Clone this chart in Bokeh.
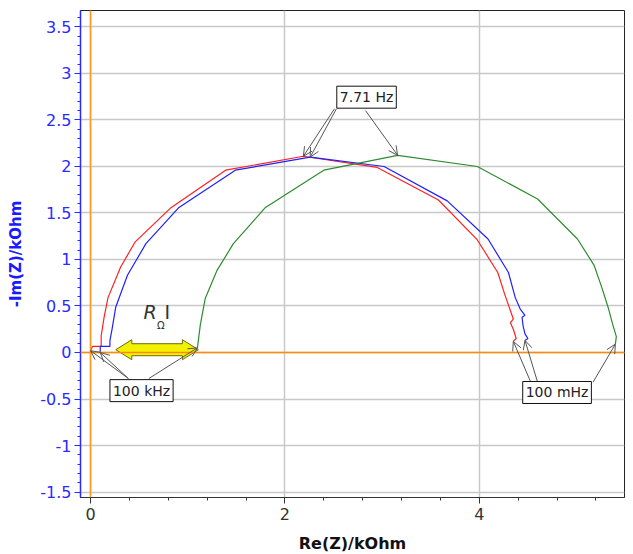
from bokeh.plotting import figure
from bokeh.models import (Range1d, SingleIntervalTicker, Span, Label, Arrow, OpenHead,
                          CustomJSTickFormatter)
from bokeh.embed import file_html
from bokeh.resources import INLINE

# ---- data (kOhm) ----
red_x = [0.00, 0.02, 0.11, 0.11, 0.14, 0.18, 0.31, 0.46, 0.82, 1.39, 2.19, 2.95, 3.58, 3.98, 4.19, 4.26, 4.35, 4.32, 4.35, 4.38, 4.35]
red_y = [0.02, 0.065, 0.065, 0.18, 0.38, 0.59, 0.92, 1.19, 1.55, 1.96, 2.11, 1.99, 1.64, 1.21, 0.86, 0.63, 0.36, 0.32, 0.25, 0.15, 0.12]

blue_x = [0.10, 0.10, 0.20, 0.20, 0.22, 0.26, 0.38, 0.57, 0.91, 1.49, 2.26, 3.02, 3.67, 4.09, 4.30, 4.37, 4.42, 4.47, 4.44, 4.45, 4.47, 4.50, 4.47]
blue_y = [0.00, 0.065, 0.065, 0.13, 0.24, 0.49, 0.83, 1.17, 1.56, 1.96, 2.10, 2.00, 1.63, 1.22, 0.86, 0.59, 0.47, 0.40, 0.38, 0.29, 0.20, 0.15, 0.13]

green_x = [1.10, 1.13, 1.18, 1.30, 1.47, 1.80, 2.40, 3.16, 3.98, 4.60, 5.01, 5.18, 5.26, 5.33, 5.37, 5.41, 5.40]
green_y = [0.05, 0.30, 0.58, 0.88, 1.17, 1.56, 1.96, 2.12, 2.00, 1.65, 1.22, 0.94, 0.70, 0.47, 0.31, 0.17, 0.09]

x_range = (-0.103, 5.494)
y_range = (-1.559, 3.677)

# annotation texts
peak_label = "7.71 Hz"
hf_label = "100 kHz"
lf_label = "100 mHz"

FW, FH = 544, 487

p = figure(frame_width=FW, frame_height=FH, output_backend="svg", toolbar_location=None,
           x_range=Range1d(*x_range), y_range=Range1d(*y_range),
           min_border_left=80, min_border_right=1, min_border_top=10, min_border_bottom=50)

p.background_fill_color = "white"
p.outline_line_color = "#222222"
p.outline_line_width = 1

FONT = "DejaVu Sans"

# axes
p.xaxis.ticker = SingleIntervalTicker(interval=2, num_minor_ticks=5)
p.yaxis.ticker = SingleIntervalTicker(interval=0.5, num_minor_ticks=5)
p.xgrid.ticker = p.xaxis.ticker
p.ygrid.ticker = p.yaxis.ticker
p.grid.grid_line_color = "#c8c8c8"
p.grid.grid_line_width = 1.5

fmt = CustomJSTickFormatter(code="return tick.toString();")
p.xaxis.formatter = fmt
p.yaxis.formatter = fmt

p.xaxis.axis_label = "Re(Z)/kOhm"
p.yaxis.axis_label = "-Im(Z)/kOhm"
for ax in (p.xaxis, p.yaxis):
    ax.major_tick_in = 0
    ax.minor_tick_in = 0
    ax.major_tick_out = 6
    ax.minor_tick_out = 3
    ax.major_label_text_font = FONT
    ax.major_label_text_font_size = "16px"
    ax.axis_label_text_font = FONT
    ax.axis_label_text_font_style = "bold"
    ax.axis_label_text_font_size = "16px"

p.xaxis.axis_line_color = "#333333"
p.xaxis.major_tick_line_color = "#333333"
p.xaxis.minor_tick_line_color = "#333333"
p.xaxis.major_label_text_color = "#333333"
p.xaxis.axis_label_text_color = "#111111"
p.xaxis.major_label_standoff = 4
p.xaxis.axis_label_standoff = 11

blue_axis = "#2a2aff"
p.yaxis.axis_line_color = blue_axis
p.yaxis.axis_line_width = 1.5
p.yaxis.major_tick_line_color = blue_axis
p.yaxis.minor_tick_line_color = blue_axis
p.yaxis.major_label_text_color = blue_axis
p.yaxis.axis_label_text_color = "#1a1aff"
p.yaxis.axis_label_text_font_size = "15px"
p.yaxis.major_label_standoff = 3
p.yaxis.axis_label_standoff = 12

# orange zero lines
p.add_layout(Span(location=0, dimension="height", line_color="#ff9a1a", line_width=1.5))
p.add_layout(Span(location=0, dimension="width", line_color="#ff8c00", line_width=1.5))

# curves
p.line(red_x, red_y, line_color="#ff2020", line_width=1.2)
p.line(blue_x, blue_y, line_color="#2020ff", line_width=1.2)
p.line(green_x, green_y, line_color="#2e8b2e", line_width=1.2)

# yellow double arrow (R_Ohm I)
sx = FW / (x_range[1] - x_range[0])
sy = FH / (y_range[1] - y_range[0])
ax0, ax1, ayc = 0.26, green_x[0] + 0.01, 0.03
hl, hh, sh = 16 / sx, 10 / sy, 6 / sy
poly_x = [ax0, ax0 + hl, ax0 + hl, ax1 - hl, ax1 - hl, ax1, ax1 - hl, ax1 - hl, ax0 + hl, ax0 + hl]
poly_y = [ayc, ayc + hh, ayc + sh, ayc + sh, ayc + hh, ayc, ayc - hh, ayc - sh, ayc - sh, ayc - hh]
p.patch(poly_x, poly_y, fill_color="#f2f200", line_color="#6b6b10", line_width=1)

# R_Ohm I label
p.add_layout(Label(x=0.545, y=0.315, text="R", text_font=FONT, text_font_style="italic",
                   text_font_size="19px", text_color="#333333"))
p.add_layout(Label(x=0.685, y=0.235, text="Ω", text_font=FONT, text_font_size="10px",
                   text_color="#333333"))
p.add_layout(Label(x=0.76, y=0.315, text="I", text_font=FONT, text_font_size="19px",
                   text_color="#333333"))

# arrows
def arrow(xs, ys, xe, ye):
    p.add_layout(Arrow(x_start=xs, y_start=ys, x_end=xe, y_end=ye,
                       line_color="#555555", line_width=1,
                       end=OpenHead(size=9, line_color="#555555", line_width=1)))

ri = red_y.index(max(red_y)); bi = blue_y.index(max(blue_y)); gi = green_y.index(max(green_y))
arrow(2.51, 2.62, red_x[ri], red_y[ri])
arrow(2.53, 2.62, blue_x[bi], blue_y[bi])
arrow(2.83, 2.60, green_x[gi], green_y[gi])

arrow(0.39, -0.28, red_x[0], red_y[0])
arrow(0.39, -0.28, blue_x[0], blue_y[0])
arrow(0.60, -0.28, green_x[0], green_y[0])

arrow(4.53, -0.32, red_x[-1], red_y[-1])
arrow(4.60, -0.32, blue_x[-1], blue_y[-1])
arrow(5.17, -0.32, green_x[-1], green_y[-1])

def box_label(x, y, t):
    p.add_layout(Label(x=x, y=y, text=t, text_align="center", text_baseline="middle",
                       text_font=FONT, text_font_size="14px", text_color="#222222",
                       border_line_color="#111111", border_line_width=1,
                       background_fill_color="white", padding=3))

box_label(2.84, 2.745, peak_label)
box_label(0.525, -0.41, hf_label)
box_label(4.80, -0.43, lf_label)

open("out.html", "w").write(file_html(p, INLINE))
